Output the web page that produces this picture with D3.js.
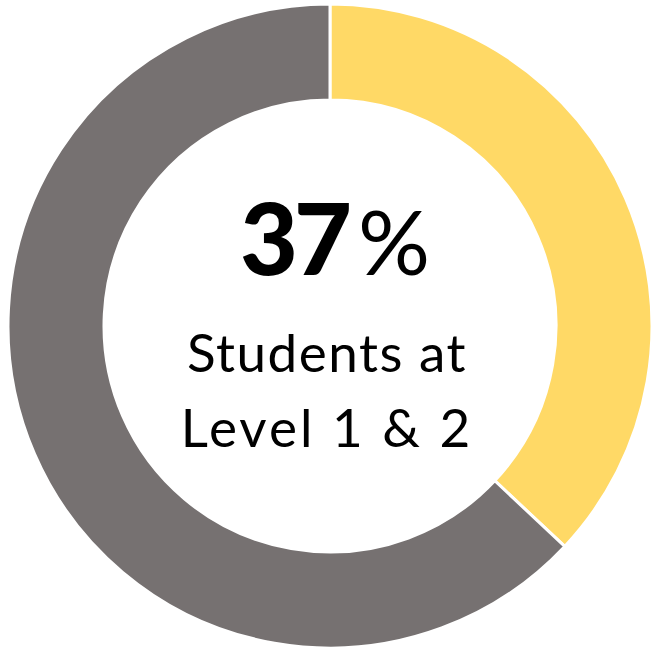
<!DOCTYPE html>
<html><head><meta charset="utf-8">
<script src="https://cdn.jsdelivr.net/npm/d3@7"></script>
<style>body{margin:0;background:#fff}</style>
</head><body>
<svg id="c" width="651" height="650"></svg>
<script>
const categories = ["Level 1 & 2", "Other levels"];
const values = [37, 63];
const colors = ["#FFD966", "#767171"];
const centerValue = "37";
const centerLines = ["Students at", "Level 1 & 2"];

const svg = d3.select("#c");
const cx = 330, cy = 326, rOuter = 322, rInner = 226;
const g = svg.append("g").attr("transform", `translate(${cx},${cy})`);
const pie = d3.pie().sort(null).value(d => d)(values);
const arc = d3.arc().innerRadius(rInner).outerRadius(rOuter);
g.selectAll("path").data(pie).join("path")
  .attr("d", arc)
  .attr("fill", (d, i) => colors[i])
  .attr("stroke", "#fff").attr("stroke-width", 3);

const font = "Lato, 'DejaVu Sans', sans-serif";
const t = g.append("text").attr("text-anchor", "middle").attr("x", 5).attr("y", -51)
  .attr("font-family", font);
t.append("tspan").text(centerValue).attr("font-weight", 900).attr("font-size", 100).attr("letter-spacing", -4);
t.append("tspan").text("%").attr("font-weight", 400).attr("font-size", 90).attr("dx", 10);
const spacing = [1.5, 3];
centerLines.forEach((s, i) => {
  g.append("text").attr("text-anchor", "middle").attr("x", -3).attr("y", 46 + i * 75)
    .attr("font-family", font).attr("font-size", 53).attr("font-weight", 400)
    .attr("letter-spacing", spacing[i]).text(s);
});
</script>
</body></html>
